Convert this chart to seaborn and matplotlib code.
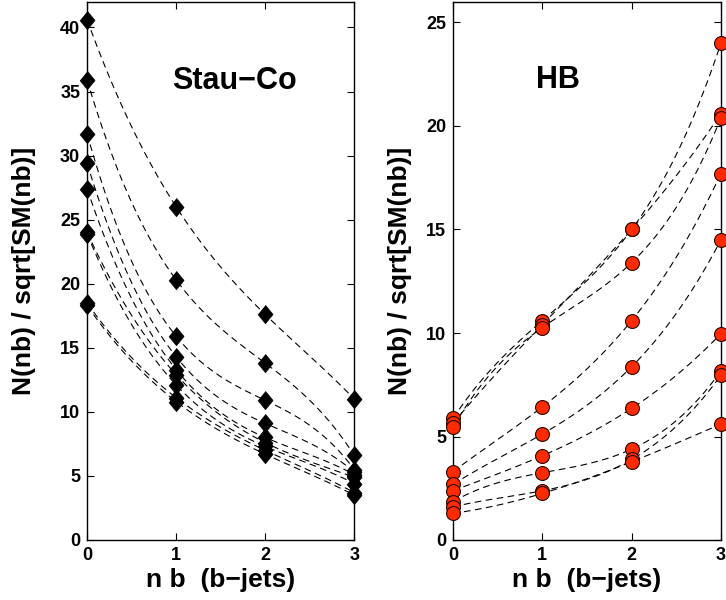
import numpy as np
import pandas as pd
import matplotlib
matplotlib.use("Agg")
import matplotlib.pyplot as plt
import seaborn as sns

# number of b-jets
nb = [0, 1, 2, 3]

# Stau-Co scenario: N(nb)/sqrt[SM(nb)] per benchmark at nb = 0, 1, 2, 3
stau_nb0 = [40.6, 35.9, 31.7, 29.4, 27.4, 24.0, 23.9, 18.5, 18.3]
stau_nb1 = [26.0, 20.3, 15.9, 14.3, 13.3, 12.9, 12.1, 11.1, 10.8]
stau_nb2 = [17.6, 13.8, 10.9, 9.1, 8.0, 7.6, 7.3, 7.0, 6.7]
stau_nb3 = [11.0, 6.6, 5.5, 5.3, 5.1, 4.9, 4.4, 3.7, 3.5]

# HB scenario
hb_nb0 = [5.87, 5.63, 5.44, 3.30, 2.69, 2.38, 1.85, 1.60, 1.29]
hb_nb1 = [10.6, 10.4, 10.26, 6.43, 5.12, 4.07, 3.25, 2.38, 2.25]
hb_nb2 = [15.0, 15.0, 13.4, 10.6, 8.37, 6.36, 4.39, 3.89, 3.78]
hb_nb3 = [24.0, 20.6, 20.4, 17.7, 14.5, 9.97, 8.17, 7.96, 5.6]

x_ticks = [0, 1, 2, 3]
stau_yticks = [0, 5, 10, 15, 20, 25, 30, 35, 40]
hb_yticks = [0, 5, 10, 15, 20, 25]


def to_frames(cols):
    vals = np.array(cols).T  # rows: benchmark, cols: nb
    pts = pd.DataFrame(
        [(i, n, v) for i, row in enumerate(vals) for n, v in zip(nb, row)],
        columns=["bench", "nb", "val"],
    )
    # smooth cubic through each benchmark's four points
    grid = np.linspace(0, 3, 121)
    curves = []
    for i, row in enumerate(vals):
        c = np.polyfit(nb, row, 3)
        for g, v in zip(grid, np.polyval(c, grid)):
            curves.append((i, g, v))
    crv = pd.DataFrame(curves, columns=["bench", "nb", "val"])
    return pts, crv


sns.set_style("ticks")
plt.rcParams["font.family"] = ["Liberation Sans", "DejaVu Sans"]
plt.rcParams["font.weight"] = "bold"
plt.rcParams["axes.labelweight"] = "bold"
plt.rcParams["text.color"] = "black"
plt.rcParams["axes.labelcolor"] = "black"
plt.rcParams["xtick.color"] = "black"
plt.rcParams["ytick.color"] = "black"

fig = plt.figure(figsize=(7.26, 6.0), dpi=100)
ax1 = fig.add_axes([0.120, 0.100, 0.368, 0.897])
ax2 = fig.add_axes([0.624, 0.100, 0.369, 0.897])

diamond = [(0, 1), (0.82, 0), (0, -1), (-0.82, 0)]

panels = [
    (ax1, [stau_nb0, stau_nb1, stau_nb2, stau_nb3], 42, stau_yticks,
     "Stau\u2212Co", (0.55, 0.853), 17,
     dict(marker=diamond, s=175, color="black", edgecolor="black", linewidth=0.5)),
    (ax2, [hb_nb0, hb_nb1, hb_nb2, hb_nb3], 26, hb_yticks,
     "HB", (0.39, 0.855), 10,
     dict(marker="o", s=100, color="#ff2a00", edgecolor="#2a0800", linewidth=0.8)),
]

for ax, cols, ymax, yt, title, tpos, ypad, mk in panels:
    pts, crv = to_frames(cols)
    sns.lineplot(data=crv, x="nb", y="val", units="bench", estimator=None,
                 color="black", linewidth=0.8, ax=ax, legend=False)
    for ln in ax.get_lines():
        ln.set_dashes([6, 4])
    sns.scatterplot(data=pts, x="nb", y="val", ax=ax, legend=False,
                    clip_on=False, zorder=5, **mk)
    ax.set_xlim(0, 3)
    ax.set_ylim(0, ymax)
    ax.set_xticks(x_ticks)
    ax.set_yticks(yt)
    ax.tick_params(direction="in", length=5, width=0.8, top=True, right=True,
                   labelsize=13, pad=5, colors="black")
    for lab in ax.get_xticklabels() + ax.get_yticklabels():
        lab.set_fontweight("bold")
    for sp in ax.spines.values():
        sp.set_linewidth(1.0)
        sp.set_color("black")
    ax.set_xlabel("n b  (b\u2212jets)", fontsize=19, fontweight="bold",
                  labelpad=3, color="black")
    ax.set_ylabel("N(nb) / sqrt[SM(nb)]", fontsize=19, fontweight="bold",
                  labelpad=ypad, color="black")
    ax.text(tpos[0], tpos[1], title, transform=ax.transAxes, ha="center",
            va="center", fontsize=22, fontweight="bold", color="black")

fig.savefig("out.png", dpi=100)
